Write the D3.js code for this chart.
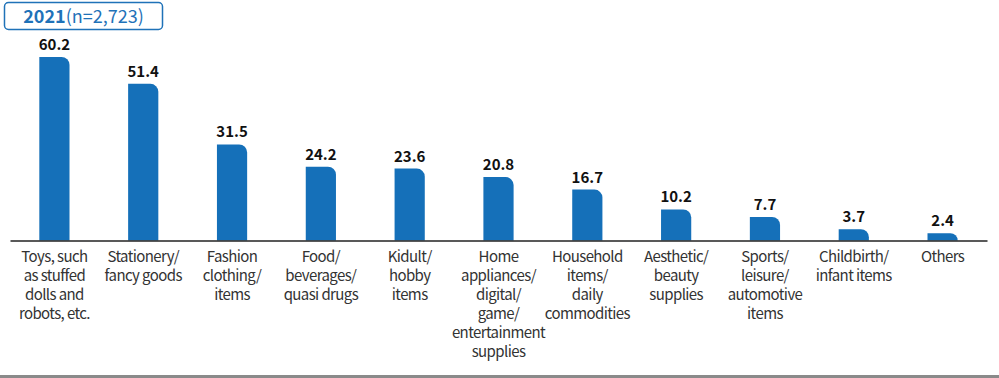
<!DOCTYPE html>
<html>
<head>
<meta charset="utf-8">
<script src="https://cdn.jsdelivr.net/npm/d3@7"></script>
<style>
  html, body { margin: 0; padding: 0; background: #fff; }
  svg { display: block; font-family: "Noto Sans CJK KR", "Noto Sans", sans-serif; }
</style>
</head>
<body>
<svg id="chart" width="999" height="378"></svg>
<script>
// Purchase categories (multi-line labels split on "\n")
const categories = [
  "Toys, such\nas stuffed\ndolls and\nrobots, etc.",
  "Stationery/\nfancy goods",
  "Fashion\nclothing/\nitems",
  "Food/\nbeverages/\nquasi drugs",
  "Kidult/\nhobby\nitems",
  "Home\nappliances/\ndigital/\ngame/\nentertainment\nsupplies",
  "Household\nitems/\ndaily\ncommodities",
  "Aesthetic/\nbeauty\nsupplies",
  "Sports/\nleisure/\nautomotive\nitems",
  "Childbirth/\ninfant items",
  "Others"
];
const values = [60.2, 51.4, 31.5, 24.2, 23.6, 20.8, 16.7, 10.2, 7.7, 3.7, 2.4];
const titleYear = "2021";
const titleSample = "(n=2,723)";

const svg = d3.select("#chart");
const W = 999, H = 378;
const baseY = 240.5;
const barColor = "#1570b9";

const x = d3.scaleBand()
  .domain(categories)
  .range([10, 987])
  .paddingInner(0.66)
  .paddingOuter(0.33);

const y = d3.scaleLinear()
  .domain([0, 60.2])
  .range([baseY, 57]);

// Bars with a rounded top-right corner
const r = 8;
svg.append("g").selectAll("path")
  .data(values)
  .join("path")
  .attr("fill", barColor)
  .attr("d", (v, i) => {
    const x0 = x(categories[i]), w = x.bandwidth();
    const yt = y(v), h = baseY - yt;
    const rr = Math.min(r, h, w);
    return `M${x0},${baseY}V${yt}H${x0 + w - rr}` +
      `A${rr},${rr} 0 0 1 ${x0 + w},${yt + rr}V${baseY}Z`;
  });

// Value labels
svg.append("g").selectAll("text")
  .data(values)
  .join("text")
  .attr("x", (v, i) => x(categories[i]) + x.bandwidth() / 2)
  .attr("y", v => y(v) - 7)
  .attr("text-anchor", "middle")
  .attr("font-size", 15)
  .attr("font-weight", "bold")
  .attr("fill", "#111")
  .text(v => v.toFixed(1));

// Baseline axis
const axis = d3.axisBottom(x).tickSize(0).tickFormat("");
const axG = svg.append("g").attr("transform", `translate(0,${baseY})`).call(axis);
axG.select(".domain").attr("stroke", "#222").attr("stroke-width", 1.3);

// Category labels
const lab = svg.append("g").selectAll("text")
  .data(categories)
  .join("text")
  .attr("x", d => x(d) + x.bandwidth() / 2)
  .attr("y", 262)
  .attr("text-anchor", "middle")
  .attr("font-size", 15)
  .attr("letter-spacing", -0.6)
  .attr("fill", "#333");
lab.each(function (d) {
  const t = d3.select(this);
  d.split("\n").forEach((line, k) => {
    t.append("tspan")
      .attr("x", t.attr("x"))
      .attr("dy", k === 0 ? 0 : 19)
      .text(line);
  });
});

// Title box
svg.append("rect")
  .attr("x", 4.5).attr("y", 2.5)
  .attr("width", 158).attr("height", 27)
  .attr("rx", 4)
  .attr("fill", "#fff")
  .attr("stroke", "#1f72b8")
  .attr("stroke-width", 1.5);
const title = svg.append("text")
  .attr("x", 83.5).attr("y", 23)
  .attr("text-anchor", "middle")
  .attr("font-size", 18)
  .attr("fill", "#1f72b8");
title.append("tspan").attr("font-weight", "bold").text(titleYear);
title.append("tspan").text(titleSample);

// Bottom rule
svg.append("rect")
  .attr("x", 0).attr("y", 375)
  .attr("width", W).attr("height", 3)
  .attr("fill", "#8a8a8a");
</script>
</body>
</html>
